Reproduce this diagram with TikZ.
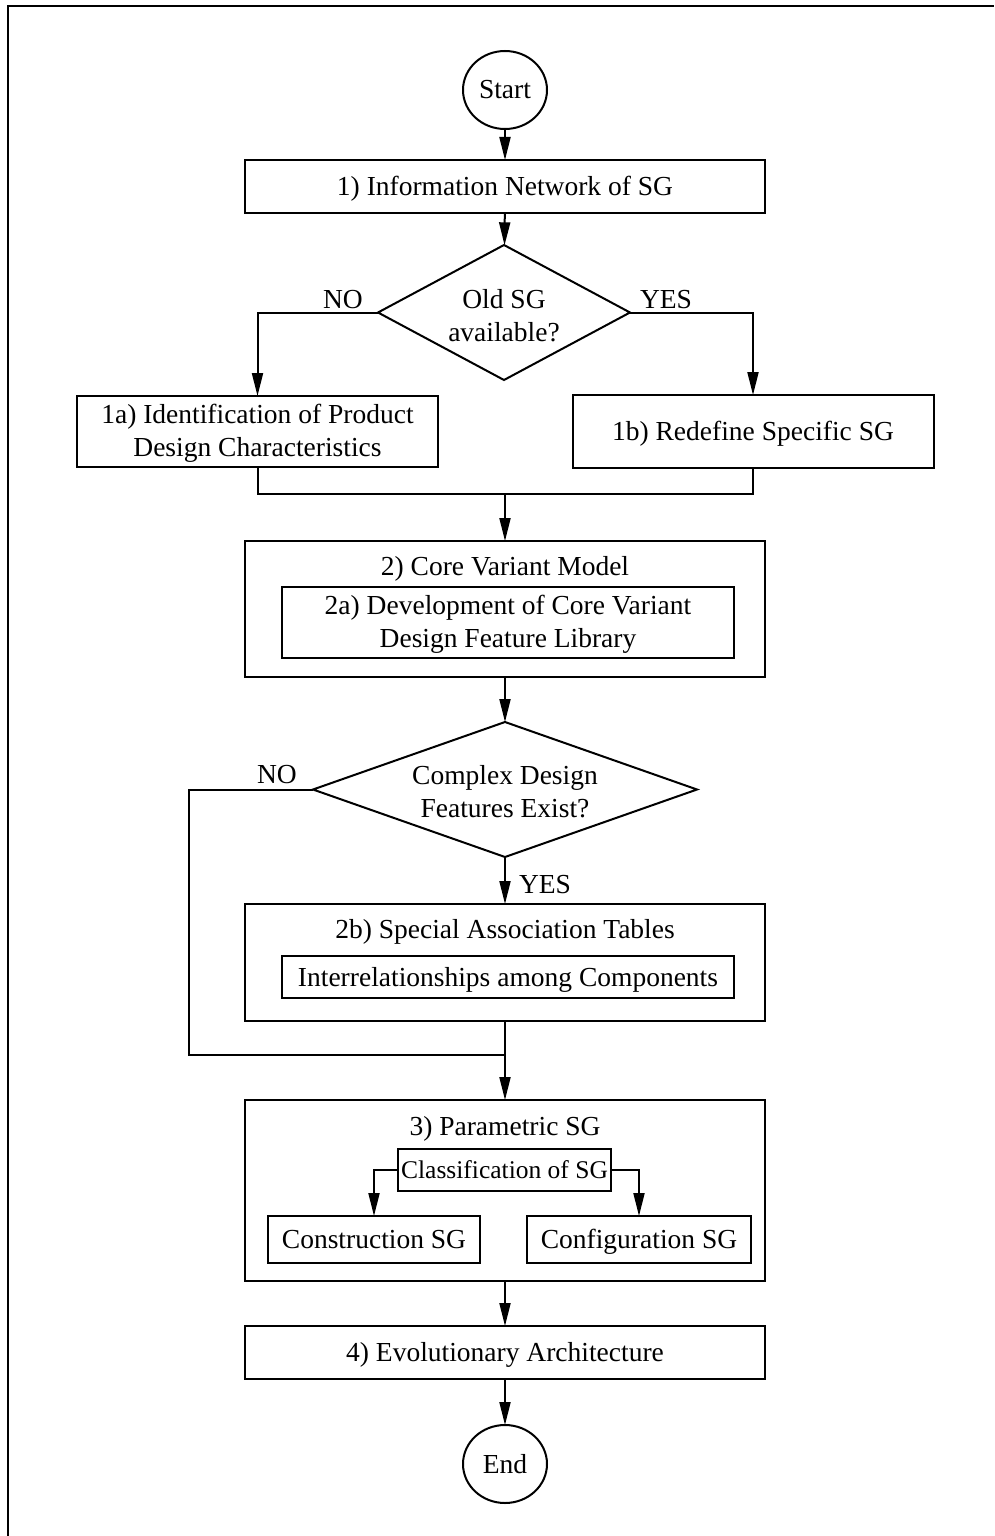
\documentclass[tikz,border=0pt]{standalone}
\usepackage{fontspec}
\setmainfont{Liberation Serif}
\usetikzlibrary{shapes.geometric,arrows.meta}
\begin{document}
\begin{tikzpicture}[x=1pt,y=-1pt,
  every node/.style={font=\fontsize{27.5}{33}\selectfont, inner sep=0pt, outer sep=0pt},
  sl/.style={text height=22pt, text depth=4pt},
  ln/.style={line width=2pt},
  arr/.style={ln, -{Triangle[length=23pt,width=11pt]}},
  box/.style={draw, line width=2pt, align=center},
  oval/.style={draw, line width=2pt, ellipse, minimum width=84pt, minimum height=78pt},
  dia/.style={draw, line width=2pt, diamond},
  lbl/.style={align=center}
]
\useasboundingbox (0,0) rectangle (994,1536);
\draw[line width=2.5pt] (8,1536) |- (994,6);

\node[oval, sl] (start) at (505,90) {Start};
\node[box, sl, minimum width=520pt, minimum height=53pt] (b1) at (505,186.5) {1) Information Network of SG};

\node[dia, minimum width=252pt, minimum height=135pt] (d1) at (504,312.5) {};
\node[lbl] (d1t) at (504,316) {Old SG\\available?};
\node[sl] (no1) at (343,299) {NO};
\node[sl] (yes1) at (666,299) {YES};

\node[box, minimum width=361pt, minimum height=71pt] (b1a) at (257.5,431.5) {};
\node[lbl] (b1at) at (257.5,433) {1a) Identification of Product\\Design Characteristics};
\node[box, sl, minimum width=361pt, minimum height=73pt] (b1b) at (753,431.5) {1b) Redefine Specific SG};

\coordinate (j1) at (505,494);

\node[box, minimum width=520pt, minimum height=136pt] (b2) at (505,609) {};
\node[sl] (b2t) at (505,566) {2) Core Variant Model};
\node[box, minimum width=452pt, minimum height=71pt] (b2a) at (508,622.5) {};
\node[lbl] (b2at) at (508,624) {2a) Development of Core Variant\\Design Feature Library};

\node[dia, minimum width=384pt, minimum height=135pt] (d2) at (505,789.5) {};
\node[lbl] (d2t) at (505,792) {Complex Design\\Features Exist?};
\node[sl] (no2) at (277,774) {NO};
\node[sl] (yes2) at (545,884) {YES};

\node[box, minimum width=520pt, minimum height=117pt] (b2b) at (505,962.5) {};
\node[sl] (b2bt) at (505,929) {2b) Special Association Tables};
\node[box, sl, minimum width=452pt, minimum height=42pt] (b2c) at (508,977) {Interrelationships among Components};

\coordinate (c2) at (189,1055);
\coordinate (j2) at (505,1055);

\node[box, minimum width=520pt, minimum height=181pt] (b3) at (505,1190.5) {};
\node[sl] (b3t) at (505,1126) {3) Parametric SG};
\node[box, font=\fontsize{25.5}{30}\selectfont, text height=20pt, text depth=4pt, minimum width=213pt, minimum height=42pt] (cls) at (504.5,1170) {Classification of SG};
\node[box, sl, minimum width=212pt, minimum height=47pt] (cons) at (374,1239.5) {Construction SG};
\node[box, sl, minimum width=224pt, minimum height=47pt] (conf) at (639,1239.5) {Configuration SG};

\node[box, sl, minimum width=520pt, minimum height=53pt] (b4) at (505,1352.5) {4) Evolutionary Architecture};
\node[oval, sl] (end) at (505,1464) {End};

\draw[arr] (start) -- (b1);
\draw[arr] (b1) -- (d1);
\draw[arr] (d1.west) -| (b1a.north);
\draw[arr] (d1.east) -| (b1b.north);
\draw[ln] (b1a.south) |- (j1) -| (b1b.south);
\draw[arr] (j1) -- (b2.north);
\draw[arr] (b2) -- (d2);
\draw[arr] (d2) -- (b2b);
\draw[ln] (d2.west) -| (c2) -- (j2);
\draw[arr] (b2b.south) -- (b3.north);
\draw[arr] (cls.west) -| (cons.north);
\draw[arr] (cls.east) -| (conf.north);
\draw[arr] (b3) -- (b4);
\draw[arr] (b4) -- (end);
\end{tikzpicture}
\end{document}
